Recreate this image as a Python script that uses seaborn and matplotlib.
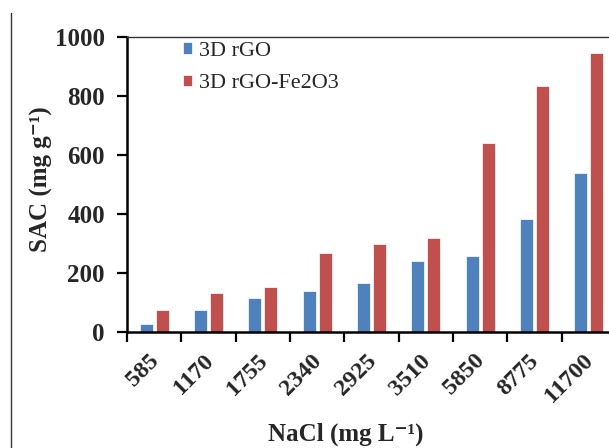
import numpy as np
import pandas as pd
import matplotlib
matplotlib.use("Agg")
import matplotlib.pyplot as plt
import matplotlib.transforms as mtransforms
from matplotlib.lines import Line2D
import seaborn as sns

categories = ["585", "1170", "1755", "2340", "2925", "3510", "5850", "8775", "11700"]
rgo = [28, 73, 114, 138, 167, 242, 257, 384, 540]
rgo_fe = [73, 133, 151, 269, 300, 319, 640, 835, 945]
series_names = ["3D rGO", "3D rGO-Fe2O3"]
yticks = [0, 200, 400, 600, 800, 1000]

df = pd.DataFrame({
    "NaCl": categories * 2,
    "SAC": rgo + rgo_fe,
    "Material": [series_names[0]] * len(categories) + [series_names[1]] * len(categories),
})

sns.set_theme(style="white")
plt.rcParams["font.family"] = ["Liberation Serif", "DejaVu Serif"]

fig = plt.figure(figsize=(6.09, 4.48), dpi=100)
ax = fig.add_axes([127 / 609, 1 - 332 / 448, 489 / 609, 295 / 448])

sns.barplot(data=df, x="NaCl", y="SAC", hue="Material", order=categories,
            hue_order=series_names, palette=["#4F81BD", "#C0504D"],
            width=0.58, gap=0.17, edgecolor="white", linewidth=0.5,
            saturation=1, ax=ax, legend=True)

ax.set_xlim(-0.5, 8.5)
ax.set_ylim(0, 1000)
ax.set_yticks(yticks)
ax.set_yticklabels([str(v) for v in yticks], fontsize=18, fontweight="bold")

ax.set_xticks(np.arange(-0.5, 9, 1))
ax.set_xticklabels([])
ax.set_xticks(np.arange(9), minor=True)
ax.set_xticklabels(categories, minor=True, rotation=45, ha="right",
                   rotation_mode="anchor", fontsize=17.5, fontweight="bold")
ax.tick_params(axis="x", which="major", direction="out", length=7, width=1.6, color="black", bottom=True)
ax.tick_params(axis="x", which="minor", length=0, pad=13)
ax.tick_params(axis="y", which="major", direction="out", length=7, width=1.6, color="black", left=True, pad=9)
offset = mtransforms.ScaledTranslation(-6 / 100, 0, fig.dpi_scale_trans)
for lbl in ax.get_xticklabels(minor=True):
    lbl.set_transform(lbl.get_transform() + offset)

for side in ["left", "bottom"]:
    ax.spines[side].set_color("black")
    ax.spines[side].set_linewidth(1.8)
ax.spines["top"].set_color("#333333")
ax.spines["top"].set_linewidth(1.0)
ax.spines["right"].set_visible(False)

ax.set_xlabel("NaCl (mg L\u207b\u00b9)", fontsize=18, fontweight="bold")
ax.xaxis.set_label_coords(0.448, -0.346)
ax.xaxis.label.set_va("center")
ax.set_ylabel("SAC (mg g\u207b\u00b9)", fontsize=18, fontweight="bold")
ax.yaxis.set_label_coords(-0.174, 0.518)
ax.yaxis.label.set_va("center")

handles, labels = ax.get_legend_handles_labels()
ax.legend(handles, labels, loc="upper left", bbox_to_anchor=(183 / 609, 1 - 42 / 448),
          bbox_transform=fig.transFigure, frameon=False, fontsize=16,
          handlelength=0.4, handleheight=0.4, handletextpad=0.3,
          labelspacing=0.6, borderaxespad=0, borderpad=0)

fig.add_artist(Line2D([11 / 609, 11 / 609], [0, 1 - 13 / 448], transform=fig.transFigure,
                      color="#333333", linewidth=1.0))

fig.savefig("out.png", dpi=100)
